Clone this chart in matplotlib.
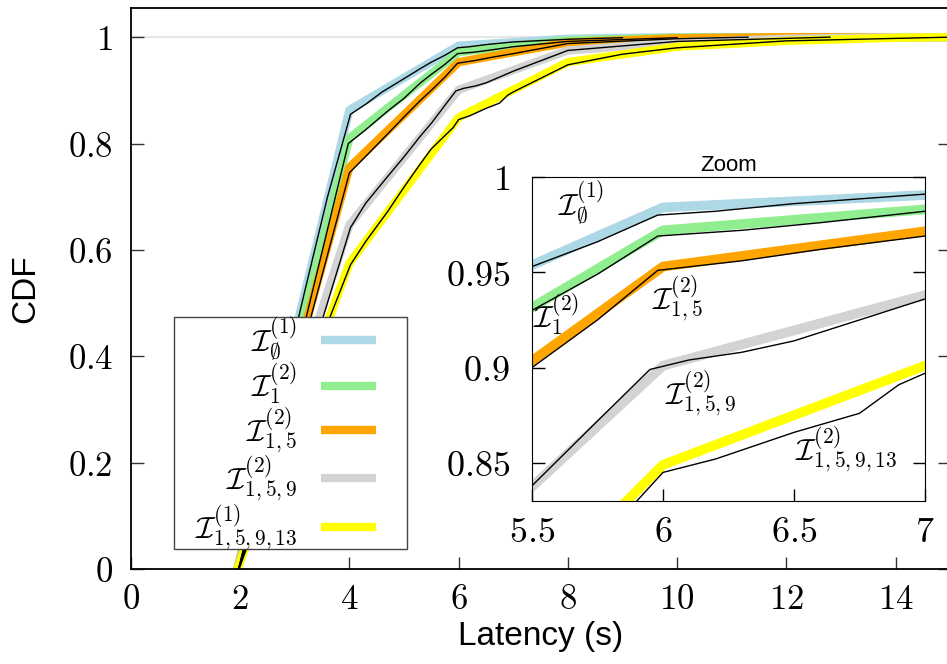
import matplotlib
matplotlib.use("Agg")
import matplotlib.pyplot as plt
from matplotlib.patches import Rectangle

plt.rcParams["mathtext.fontset"] = "cm"
plt.rcParams["font.family"] = ["Liberation Sans", "DejaVu Sans"]

# smooth (coloured) CDF curves
x_fit = [1.95, 4, 6, 8, 10, 12, 14, 15]
y_blue = [0, 0.863, 0.984, 0.997, 1.0, 1.0, 1.0, 1.0]
y_green = [0, 0.810, 0.972, 0.994, 0.999, 1.0, 1.0, 1.0]
y_orange = [0, 0.755, 0.953, 0.990, 0.998, 1.0, 1.0, 1.0]
y_grey = [0, 0.647, 0.901, 0.975, 0.990, 0.997, 1.0, 1.0]
y_yellow = [0, 0.575, 0.849, 0.953, 0.982, 0.993, 0.999, 1.0]

# measured (black) CDF curves
bx_blue = [1.97, 2.6, 3.2, 3.6, 4.02, 4.3, 4.6, 5.0, 5.3, 5.5, 5.75, 5.98, 6.2, 6.5, 6.8, 7.0, 8.0, 9.0]
by_blue = [0.0, 0.27, 0.53, 0.70, 0.855, 0.874, 0.897, 0.922, 0.941, 0.953, 0.966, 0.980, 0.982, 0.986, 0.989, 0.991, 0.996, 0.999]
bx_green = [1.97, 3.0, 3.98, 4.3, 4.7, 5.0, 5.3, 5.5, 5.75, 5.98, 6.3, 6.6, 7.0, 8.0, 10.0]
by_green = [0.0, 0.385, 0.800, 0.826, 0.861, 0.885, 0.914, 0.930, 0.949, 0.969, 0.972, 0.976, 0.982, 0.992, 0.999]
bx_orange = [1.97, 3.0, 4.0, 4.3, 4.7, 5.0, 5.3, 5.5, 5.75, 5.98, 6.3, 6.6, 7.0, 8.0, 10.0, 11.3]
by_orange = [0.0, 0.36, 0.745, 0.776, 0.818, 0.850, 0.881, 0.900, 0.925, 0.951, 0.956, 0.962, 0.969, 0.988, 0.997, 1.0]
bx_grey = [1.97, 3.0, 4.02, 4.3, 4.7, 5.0, 5.3, 5.5, 5.75, 5.95, 6.1, 6.3, 6.5, 6.75, 7.0, 8.0, 10.0, 12.8]
by_grey = [0.0, 0.30, 0.642, 0.688, 0.738, 0.775, 0.814, 0.838, 0.872, 0.899, 0.904, 0.908, 0.914, 0.925, 0.936, 0.975, 0.992, 1.0]
bx_yellow = [1.98, 3.0, 3.63, 4.02, 4.3, 4.7, 5.0, 5.3, 5.5, 5.9, 6.0, 6.2, 6.5, 6.75, 6.9, 7.0, 8.0, 9.0, 10.0, 12.0, 15.0]
by_yellow = [0.0, 0.29, 0.47, 0.572, 0.616, 0.672, 0.718, 0.762, 0.790, 0.830, 0.845, 0.852, 0.866, 0.876, 0.891, 0.897, 0.948, 0.968, 0.98, 0.993, 1.0]

colors = ["#add8e6", "#90ee90", "#ffa500", "#d3d3d3", "#ffff00"]
legend_labels = [r"$\mathcal{I}^{(1)}_{\emptyset}$", r"$\mathcal{I}^{(2)}_{1}$",
                 r"$\mathcal{I}^{(2)}_{1,5}$", r"$\mathcal{I}^{(2)}_{1,5,9}$",
                 r"$\mathcal{I}^{(1)}_{1,5,9,13}$"]
inset_labels = [r"$\mathcal{I}^{(1)}_{\emptyset}$", r"$\mathcal{I}^{(2)}_{1}$",
                r"$\mathcal{I}^{(2)}_{1,5}$", r"$\mathcal{I}^{(2)}_{1,5,9}$",
                r"$\mathcal{I}^{(2)}_{1,5,9,13}$"]
inset_label_pos = [(5.60, 0.980), (5.504, 0.921), (5.958, 0.931), (6.008, 0.881), (6.504, 0.8515)]

fits = [y_blue, y_green, y_orange, y_grey, y_yellow]
raws = [(bx_blue, by_blue), (bx_green, by_green), (bx_orange, by_orange),
        (bx_grey, by_grey), (bx_yellow, by_yellow)]

main_ticks = [0, 0.2, 0.4, 0.6, 0.8, 1]
main_xticks = [0, 2, 4, 6, 8, 10, 12, 14]
zoom_yticks = [0.85, 0.9, 0.95, 1]
zoom_xticks = [5.5, 6, 6.5, 7]


def tex(v):
    return "$%g$" % v


fig = plt.figure(figsize=(9.47, 6.64), dpi=100)
ax = fig.add_axes([0.1383, 0.1431, 0.865, 0.845])

ax.axhline(1, color="#e6e6e6", lw=1.5, zorder=0)
handles = []
for c, yf, lab in zip(colors, fits, legend_labels):
    h, = ax.plot(x_fit, yf, color=c, lw=6, solid_capstyle="butt", label=lab)
    handles.append(h)
for bx, by in raws:
    ax.plot(bx, by, color="black", lw=1)

ax.set_xlim(0, 15)
ax.set_ylim(0, 1.055)
ax.set_xticks(main_xticks, [tex(v) for v in main_xticks])
ax.set_yticks(main_ticks, [tex(v) for v in main_ticks])
ax.tick_params(direction="in", length=9, width=1, labelsize=25, color="#333333")
ax.tick_params(axis="y", right=True, pad=13)
ax.tick_params(axis="x", top=False, pad=10)
for s in ax.spines.values():
    s.set_linewidth(1.3)
ax.set_xlabel("Latency (s)", fontsize=24, labelpad=4)
ax.set_ylabel("CDF", fontsize=24, labelpad=19)

# legend box drawn by hand, entries placed inside without frame
box = Rectangle((0.0525, 0.0357), 0.2845, 0.4133, transform=ax.transAxes,
                facecolor="white", edgecolor="#444444", lw=1.0, zorder=5)
ax.add_patch(box)
leg = ax.legend(handles=handles, loc="center", bbox_to_anchor=(0.1886, 0.242),
                borderaxespad=0, markerfirst=False, frameon=False, fontsize=22,
                handlelength=1.8, handletextpad=0.8, labelspacing=-0.05, borderpad=0)
leg.set_zorder(6)

# zoomed inset
axz = fig.add_axes([0.5618, 0.2455, 0.415, 0.488])
for c, yf in zip(colors, fits):
    axz.plot(x_fit, yf, color=c, lw=7, solid_capstyle="butt")
for bx, by in raws:
    axz.plot(bx, by, color="black", lw=1)
for lab, (tx, ty) in zip(inset_labels, inset_label_pos):
    axz.text(tx, ty, lab, fontsize=22, ha="left", va="baseline")
axz.set_xlim(5.5, 7)
axz.set_ylim(0.83, 1.0)
axz.set_xticks(zoom_xticks, [tex(v) for v in zoom_xticks])
axz.set_yticks(zoom_yticks, [tex(v) for v in zoom_yticks])
axz.tick_params(direction="in", length=9, width=1, labelsize=26)
axz.tick_params(axis="y", right=True, pad=16)
axz.tick_params(axis="x", top=False, pad=10)
axz.set_title("Zoom", fontsize=16, pad=4)

fig.savefig("out.png", dpi=100)
